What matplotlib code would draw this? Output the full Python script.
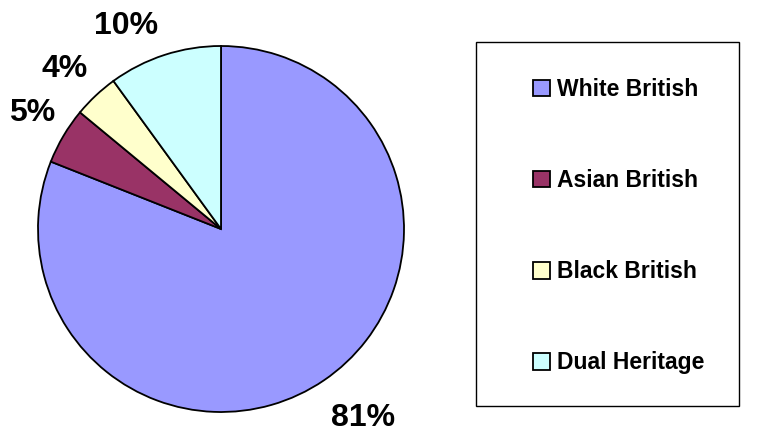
import matplotlib
matplotlib.use("Agg")
import matplotlib.pyplot as plt
from matplotlib.patches import Rectangle

plt.rcParams["font.family"] = ["Liberation Sans", "DejaVu Sans"]
plt.rcParams["font.weight"] = "bold"

groups = ["White British", "Asian British", "Black British", "Dual Heritage"]
shares = [81, 5, 4, 10]
colours = ["#9999ff", "#993366", "#ffffcc", "#ccffff"]

W, H = 762, 437
fig = plt.figure(figsize=(W / 100, H / 100), dpi=100)
ax = fig.add_axes([0, 0, 1, 1])

wedges, _, pcts = ax.pie(shares, colors=colours, startangle=90, counterclock=False,
                         center=(221, H - 229), radius=183, autopct="%d%%",
                         pctdistance=1.25, frame=True,
                         wedgeprops=dict(edgecolor="black", linewidth=1.3),
                         textprops=dict(fontsize=23, fontweight="bold", color="black"))
ax.set_xlim(0, W)
ax.set_ylim(0, H)
ax.set_aspect("equal")
ax.axis("off")

# nudge the percentage labels off the default ring
nudges = [(13, 0), (8, 0), (0, -7), (-24, -15)]
for t, (dx, dy) in zip(pcts, nudges):
    x, y = t.get_position()
    t.set_position((x + dx, y + dy))

# legend frame
fig.patches.append(Rectangle((476 / W, 1 - 406 / H), 263 / W, 364 / H,
                             transform=fig.transFigure, facecolor="white",
                             edgecolor="black", linewidth=1.0, zorder=0))
fig.legend(wedges, groups, loc="upper left",
           bbox_to_anchor=(533 / W, 1 - 78 / H), frameon=False,
           borderpad=0, borderaxespad=0,
           handlelength=0.75, handleheight=0.75, handletextpad=0.3,
           labelspacing=2.97, prop=dict(weight="bold", size=16.5))

fig.savefig("out.png", dpi=100)
